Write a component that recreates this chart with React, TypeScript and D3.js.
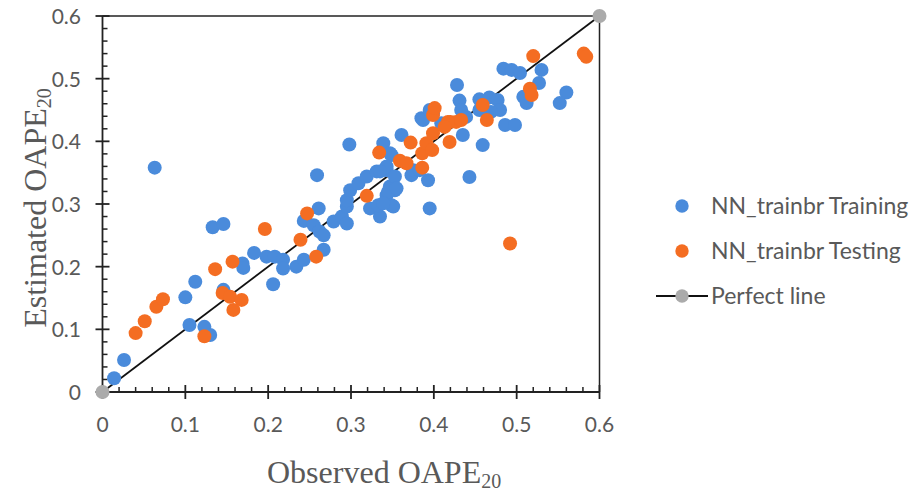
import React from "react";
import * as d3 from "d3";

const training: [number, number][] = [
  [0.014, 0.022], [0.026, 0.051], [0.063, 0.358], [0.133, 0.263], [0.146, 0.268], [0.100, 0.151],
  [0.112, 0.176], [0.105, 0.107], [0.123, 0.104], [0.130, 0.091], [0.146, 0.163], [0.169, 0.205],
  [0.170, 0.198], [0.183, 0.222], [0.198, 0.216], [0.208, 0.216], [0.218, 0.211], [0.218, 0.197],
  [0.206, 0.172], [0.234, 0.200], [0.243, 0.211], [0.243, 0.273], [0.298, 0.395], [0.259, 0.346],
  [0.267, 0.227], [0.261, 0.293], [0.245, 0.274], [0.255, 0.266], [0.262, 0.256], [0.267, 0.250],
  [0.279, 0.272], [0.289, 0.280], [0.295, 0.269], [0.295, 0.296], [0.295, 0.306], [0.299, 0.322],
  [0.309, 0.333], [0.319, 0.344], [0.331, 0.352], [0.343, 0.354], [0.323, 0.293], [0.335, 0.280],
  [0.333, 0.298], [0.343, 0.314], [0.349, 0.298], [0.353, 0.322], [0.339, 0.397], [0.361, 0.410],
  [0.385, 0.437], [0.373, 0.346], [0.393, 0.338], [0.395, 0.293], [0.484, 0.516], [0.494, 0.514],
  [0.504, 0.509], [0.530, 0.514], [0.527, 0.493], [0.512, 0.461], [0.508, 0.471], [0.560, 0.478],
  [0.552, 0.461], [0.428, 0.490], [0.431, 0.465], [0.433, 0.450], [0.455, 0.467], [0.467, 0.470],
  [0.477, 0.466], [0.480, 0.450], [0.469, 0.447], [0.455, 0.450], [0.486, 0.426], [0.498, 0.426],
  [0.459, 0.394], [0.443, 0.343], [0.387, 0.434], [0.399, 0.445], [0.409, 0.429], [0.439, 0.439],
  [0.435, 0.410], [0.347, 0.328], [0.351, 0.296], [0.375, 0.354], [0.349, 0.378], [0.347, 0.381],
  [0.343, 0.360], [0.353, 0.344], [0.383, 0.354], [0.395, 0.450], [0.345, 0.320], [0.355, 0.325],
  [0.339, 0.301], [0.335, 0.352],
];

const testing: [number, number][] = [
  [0.040, 0.094], [0.051, 0.113], [0.065, 0.136], [0.073, 0.148], [0.123, 0.089], [0.136, 0.196],
  [0.157, 0.208], [0.196, 0.260], [0.145, 0.158], [0.154, 0.152], [0.168, 0.147], [0.158, 0.131],
  [0.239, 0.243], [0.247, 0.285], [0.258, 0.216], [0.319, 0.313], [0.334, 0.382], [0.359, 0.369],
  [0.367, 0.365], [0.372, 0.398], [0.386, 0.358], [0.386, 0.381], [0.391, 0.397], [0.398, 0.386],
  [0.399, 0.413], [0.399, 0.442], [0.419, 0.399], [0.420, 0.431], [0.427, 0.431], [0.520, 0.536],
  [0.581, 0.540], [0.584, 0.535], [0.516, 0.484], [0.518, 0.474], [0.459, 0.458], [0.464, 0.434],
  [0.401, 0.453], [0.417, 0.431], [0.433, 0.434], [0.413, 0.423], [0.492, 0.237],
];

const perfectLine: [number, number][] = [[0, 0], [0.6, 0.6]];
const tickValues = [0, 0.1, 0.2, 0.3, 0.4, 0.5, 0.6];
const tickLabels = ["0", "0.1", "0.2", "0.3", "0.4", "0.5", "0.6"];
const legendLabels = ["NN_trainbr Training", "NN_trainbr Testing", "Perfect line"];

const BLUE = "#4A8BDB";
const ORANGE = "#F46D22";
const GRAY = "#ABABAB";
const TEXT = "#595959";
const AXIS = "#222";

export default function App() {
  const x = d3.scaleLinear().domain([0, 0.6]).range([102.5, 599.5]);
  const y = d3.scaleLinear().domain([0, 0.6]).range([392, 16]);
  const minor = d3.range(0, 61, 2).map((d) => d / 100).filter((d) => Math.round(d * 100) % 10 !== 0);
  const line = d3.line<[number, number]>().x((d) => x(d[0])).y((d) => y(d[1]));
  const R = 7;
  const tickFont = "Lato, 'Open Sans', sans-serif";
  const x0 = x(0), y0 = y(0), x1 = x(0.6), y1 = y(0.6);

  return (
    <svg width={910} height={492} style={{ position: "absolute", left: 0, top: 0, background: "#fff" }}>
      {/* frame */}
      <line x1={x0} y1={y1} x2={x1} y2={y1} stroke={AXIS} strokeWidth={1.5} />
      <line x1={x1} y1={y1} x2={x1} y2={y0} stroke={AXIS} strokeWidth={1.5} />
      <line x1={x0} y1={y1} x2={x0} y2={y0} stroke={AXIS} strokeWidth={1.8} />
      <line x1={x0} y1={y0} x2={x1} y2={y0} stroke={AXIS} strokeWidth={1.8} />
      {/* minor ticks */}
      {minor.map((v) => (
        <g key={"m" + v}>
          <line x1={x(v)} x2={x(v)} y1={y0} y2={y0 - 5} stroke={AXIS} strokeWidth={1.5} />
          <line x1={x0} x2={x0 + 5} y1={y(v)} y2={y(v)} stroke={AXIS} strokeWidth={1.5} />
        </g>
      ))}
      {/* major ticks */}
      {tickValues.map((v) => (
        <g key={"M" + v}>
          <line x1={x(v)} x2={x(v)} y1={y0 - 7} y2={y0 + 7} stroke={AXIS} strokeWidth={1.8} />
          <line x1={x0 - 7} x2={x0 + 7} y1={y(v)} y2={y(v)} stroke={AXIS} strokeWidth={1.8} />
        </g>
      ))}
      {/* tick labels */}
      {tickValues.map((v, i) => (
        <g key={"L" + v} fontFamily={tickFont} fontSize={21} fill={TEXT}>
          <text x={x(v)} y={432} textAnchor="middle">{tickLabels[i]}</text>
          <text x={81} y={y(v) + 8} textAnchor="end">{tickLabels[i]}</text>
        </g>
      ))}
      {/* axis titles */}
      <text x={267} y={483} fontFamily="'Liberation Serif', 'Times New Roman', serif" fontSize={32} fill={TEXT}>
        Observed OAPE<tspan fontSize={20} dy={5}>20</tspan>
      </text>
      <text
        transform="translate(46,208) rotate(-90)"
        textAnchor="middle"
        fontFamily="'Liberation Serif', 'Times New Roman', serif"
        fontSize={32}
        fill={TEXT}
      >
        Estimated OAPE<tspan fontSize={20} dy={5}>20</tspan>
      </text>
      {/* perfect line */}
      <path d={line(perfectLine) || ""} stroke="#111" strokeWidth={1.8} fill="none" />
      {/* points */}
      {training.map((d, i) => (
        <circle key={"t" + i} cx={x(d[0])} cy={y(d[1])} r={R} fill={BLUE} />
      ))}
      {testing.map((d, i) => (
        <circle key={"s" + i} cx={x(d[0])} cy={y(d[1])} r={R} fill={ORANGE} />
      ))}
      {perfectLine.map((d, i) => (
        <circle key={"p" + i} cx={x(d[0])} cy={y(d[1])} r={R} fill={GRAY} />
      ))}
      {/* legend */}
      <g fontFamily={tickFont} fontSize={23} fill={TEXT}>
        <circle cx={682} cy={206} r={6.7} fill={BLUE} />
        <text x={711} y={214}>{legendLabels[0]}</text>
        <circle cx={682} cy={251} r={6.7} fill={ORANGE} />
        <text x={711} y={259}>{legendLabels[1]}</text>
        <line x1={656} x2={708} y1={296} y2={296} stroke="#111" strokeWidth={1.8} />
        <circle cx={682} cy={296} r={6.7} fill={GRAY} />
        <text x={711} y={304}>{legendLabels[2]}</text>
      </g>
    </svg>
  );
}
